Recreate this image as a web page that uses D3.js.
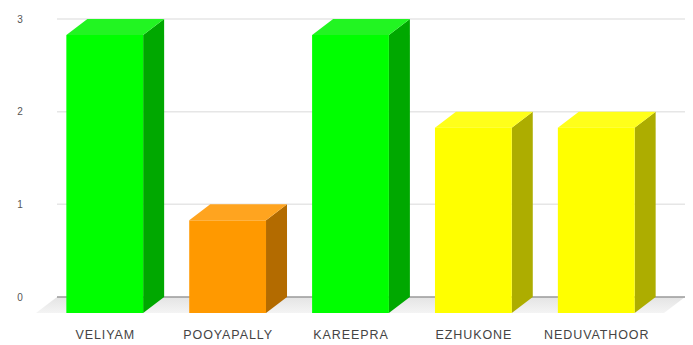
<!DOCTYPE html>
<html>
<head>
<meta charset="utf-8">
<script src="https://cdn.jsdelivr.net/npm/d3@7"></script>
<style>
  html, body { margin: 0; padding: 0; background: #fff; }
  svg { display: block; }
</style>
</head>
<body>
<svg id="chart" width="693" height="345"></svg>
<script>
// Data
const categories = ["VELIYAM", "POOYAPALLY", "KAREEPRA", "EZHUKONE", "NEDUVATHOOR"];
const values = [3, 1, 3, 2, 2];
const yTicks = [0, 1, 2, 3];
const frontColors = ["#00ff00", "#ff9900", "#00ff00", "#ffff00", "#ffff00"];
const topColors = ["#22f522", "#ffa41f", "#22f522", "#ffff1a", "#ffff1a"];
const sideColors = ["#00a800", "#b36b00", "#00a800", "#adad00", "#adad00"];

const svg = d3.select("#chart");

// 3D depth offset of the back plane relative to the front plane
const dx = 21, dy = -16;

const x = d3.scaleBand().domain(categories).range([43, 658]).paddingInner(0.375).paddingOuter(0.19);
const y = d3.scaleLinear().domain([0, 3]).range([313, 35]);

// Floor
const defs = svg.append("defs");
const grad = defs.append("linearGradient").attr("id", "floorGrad")
  .attr("x1", 0).attr("y1", 0).attr("x2", 0).attr("y2", 1);
grad.append("stop").attr("offset", "0%").attr("stop-color", "#e4e4e4");
grad.append("stop").attr("offset", "100%").attr("stop-color", "#f4f4f4");

const xL = 36, xR = 664;
svg.append("path")
  .attr("d", `M${xL},${y(0)} L${xR},${y(0)} L${xR + dx},${y(0) + dy} L${xL + dx},${y(0) + dy} Z`)
  .attr("fill", "url(#floorGrad)");

// Gridlines on the back plane
svg.append("g").selectAll("line").data(yTicks).join("line")
  .attr("x1", xL + dx).attr("x2", xR + dx)
  .attr("y1", d => y(d) + dy).attr("y2", d => y(d) + dy)
  .attr("stroke", d => d === 0 ? "#9a9a9a" : "#e6e6e6")
  .attr("stroke-width", 1.5);

// Y axis labels
svg.append("g").selectAll("text").data(yTicks).join("text")
  .attr("x", 20).attr("y", d => y(d) + dy)
  .attr("dy", "0.35em")
  .attr("text-anchor", "middle")
  .attr("font-family", "Arial, 'Liberation Sans', sans-serif")
  .attr("font-size", 10)
  .attr("fill", "#555")
  .text(d => d);

// Bars (side face, top face, front face)
const bars = svg.append("g").selectAll("g").data(categories).join("g");

bars.append("path")
  .attr("fill", (d, i) => sideColors[i])
  .attr("d", (d, i) => {
    const x1 = x(d) + x.bandwidth(), yt = y(values[i]), yb = y(0);
    return `M${x1},${yt} L${x1 + dx},${yt + dy} L${x1 + dx},${yb + dy} L${x1},${yb} Z`;
  });

bars.append("path")
  .attr("fill", (d, i) => topColors[i])
  .attr("d", (d, i) => {
    const x0 = x(d), x1 = x(d) + x.bandwidth(), yt = y(values[i]);
    return `M${x0},${yt} L${x1},${yt} L${x1 + dx},${yt + dy} L${x0 + dx},${yt + dy} Z`;
  });

bars.append("rect")
  .attr("x", d => x(d))
  .attr("y", (d, i) => y(values[i]))
  .attr("width", x.bandwidth())
  .attr("height", (d, i) => y(0) - y(values[i]))
  .attr("fill", (d, i) => frontColors[i]);

// Category labels
svg.append("g").selectAll("text").data(categories).join("text")
  .attr("x", d => x(d) + x.bandwidth() / 2 + 0.5)
  .attr("y", 339)
  .attr("text-anchor", "middle")
  .attr("font-family", "Arial, 'Liberation Sans', sans-serif")
  .attr("font-size", 12.5)
  .attr("letter-spacing", 0.9)
  .attr("fill", "#444")
  .text(d => d);
</script>
</body>
</html>
